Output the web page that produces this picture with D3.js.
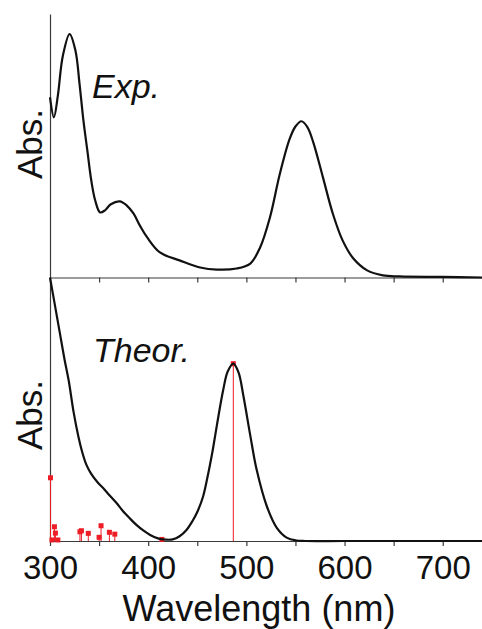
<!DOCTYPE html>
<html>
<head>
<meta charset="utf-8">
<script src="https://cdn.jsdelivr.net/npm/d3@7"></script>
<style>
    body { margin: 0; background: #fff; }
    text { font-family: "Liberation Sans", Arial, sans-serif; fill: #111; }
</style>
</head>
<body>
<div id="chart"></div>
<script>

// Experimental spectrum (wavelength in nm, normalised absorbance)
var expWavelength = [300, 304, 308, 313, 320, 326, 330, 334, 338, 342, 346, 351, 356, 362, 371, 378,
                     385, 392, 399, 412, 432, 453, 470, 490, 504, 514, 524, 534, 544, 550, 556, 562,
                     568, 578, 588, 598, 609, 623, 639, 656, 700, 740];
var expAbs = [0.684, 0.608, 0.69, 0.84, 0.924, 0.86, 0.738, 0.597, 0.483, 0.369, 0.293, 0.247, 0.255,
              0.278, 0.289, 0.274, 0.243, 0.194, 0.152, 0.095, 0.065, 0.038, 0.030, 0.034, 0.053,
              0.114, 0.228, 0.392, 0.525, 0.573, 0.593, 0.572, 0.515, 0.380, 0.243, 0.141, 0.072,
              0.027, 0.008, 0.004, 0.002, 0.0];

// Theoretical (broadened) spectrum
var theorWavelength = [300, 305, 310, 315, 319, 324, 329, 333, 337, 342, 348, 355, 361, 368, 374, 381,
                       388, 395, 402, 410, 415, 425, 432, 439, 445, 450, 456, 460, 463, 466, 470, 476.5,
                       481, 486.7, 492, 497, 504, 510.5, 521, 531, 541, 551, 560, 600, 700, 740];
var theorAbs = [1.0, 0.895, 0.79, 0.685, 0.61, 0.49, 0.395, 0.335, 0.29, 0.255, 0.225, 0.197, 0.172,
                0.143, 0.115, 0.087, 0.061, 0.04, 0.023, 0.01, 0.006, 0.006, 0.018, 0.042, 0.075,
                0.11, 0.17, 0.235, 0.29, 0.35, 0.44, 0.575, 0.643, 0.673, 0.64, 0.55, 0.40, 0.27,
                0.13, 0.05, 0.013, 0.002, 0.0, 0.0, 0.0, 0.0];

// Calculated transitions (oscillator strengths, same scale)
var stickWavelength = [300.5, 302, 304.5, 305.5, 308, 330.5, 332, 339, 350, 352, 360.5, 366, 414, 486.7];
var stickStrength = [0.24, 0.004, 0.054, 0.03, 0.004, 0.035, 0.039, 0.029, 0.014, 0.058, 0.033, 0.026,
                     0.006, 0.673];

var xTicks = [300, 350, 400, 450, 500, 550, 600, 650, 700];

var margin = { top: 14, right: 0, bottom: 88, left: 50 };
var width = 482 - margin.left - margin.right,
    height = 629 - margin.top - margin.bottom;
var panelH = height / 2;

var svg = d3.select("#chart").append("svg")
    .attr("width", 482)
    .attr("height", 629);

var x = d3.scaleLinear()
    .domain([300, 740])
    .range([margin.left, margin.left + width]);

// top panel (Exp.) and bottom panel (Theor.)
var yTop = d3.scaleLinear()
    .domain([0, 1])
    .range([margin.top + panelH, margin.top]);

var yBot = d3.scaleLinear()
    .domain([0, 1])
    .range([margin.top + 2 * panelH, margin.top + panelH]);

var axisColor = "#3a3a3a";

function drawAxes(y, showLabels) {
    var xAxis = d3.axisBottom(x)
        .tickValues(xTicks)
        .tickSize(5)
        .tickSizeOuter(0)
        .tickPadding(10)
        .tickFormat(function(d) { return (showLabels && d % 100 == 0) ? d : ""; });

    var gx = svg.append("g")
        .attr("transform", "translate(0," + y(0) + ")")
        .call(xAxis);
    gx.attr("font-family", null).attr("font-size", null);
    gx.selectAll("path, line").attr("stroke", axisColor).attr("stroke-width", 1.2);
    gx.selectAll("text").style("font-size", "33px").attr("fill", "#111");

    var gy = svg.append("g")
        .attr("transform", "translate(" + margin.left + ",0)")
        .call(d3.axisLeft(y).tickValues([]).tickSizeOuter(0));
    gy.select("path").attr("stroke", axisColor).attr("stroke-width", 1.2);
}

drawAxes(yTop, false);
drawAxes(yBot, true);

// red stick spectrum
var red = "#ee1c25";
var sticks = stickWavelength.map(function(w, i) { return { w: w, f: stickStrength[i] }; });

svg.selectAll(".stick")
    .data(sticks)
    .enter().append("line")
    .attr("class", "stick")
    .attr("x1", function(d) { return x(d.w); })
    .attr("x2", function(d) { return x(d.w); })
    .attr("y1", yBot(0))
    .attr("y2", function(d) { return yBot(d.f); })
    .attr("stroke", red)
    .attr("stroke-width", 1);

svg.selectAll(".stickMark")
    .data(sticks)
    .enter().append("rect")
    .attr("class", "stickMark")
    .attr("x", function(d) { return x(d.w) - 2.5; })
    .attr("y", function(d) { return yBot(d.f) - 2.5; })
    .attr("width", 5)
    .attr("height", 5)
    .attr("fill", red);

// spectra
function drawCurve(wl, ab, y) {
    var pts = wl.map(function(w, i) { return [w, ab[i]]; });
    var line = d3.line()
        .x(function(d) { return x(d[0]); })
        .y(function(d) { return y(d[1]); })
        .curve(d3.curveCatmullRom.alpha(0.5));
    svg.append("path")
        .datum(pts)
        .attr("d", line)
        .attr("fill", "none")
        .attr("stroke", "#111")
        .attr("stroke-width", 2.2);
}

drawCurve(expWavelength, expAbs, yTop);
drawCurve(theorWavelength, theorAbs, yBot);

// labels
svg.append("text")
    .attr("x", 92).attr("y", 98)
    .style("font-size", "34px").style("font-style", "italic")
    .text("Exp.");

svg.append("text")
    .attr("x", 93).attr("y", 362)
    .style("font-size", "34px").style("font-style", "italic")
    .text("Theor.");

svg.append("text")
    .attr("transform", "translate(42,144) rotate(-90)")
    .attr("text-anchor", "middle")
    .style("font-size", "35px")
    .text("Abs.");

svg.append("text")
    .attr("transform", "translate(42,415) rotate(-90)")
    .attr("text-anchor", "middle")
    .style("font-size", "35px")
    .text("Abs.");

svg.append("text")
    .attr("x", 259).attr("y", 621)
    .attr("text-anchor", "middle")
    .style("font-size", "36px")
    .text("Wavelength (nm)");

</script>
</body>
</html>
